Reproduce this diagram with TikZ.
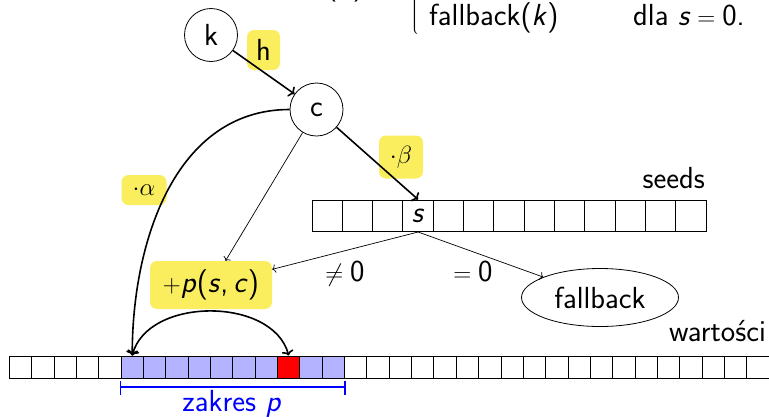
\documentclass[tikz,border=0pt]{standalone}
\usepackage{fontspec}
\usetikzlibrary{arrows.meta,calc,shapes.geometric}
\definecolor{hl}{RGB}{250,238,95}
\definecolor{shade}{RGB}{179,179,255}
\newcommand\mi[1]{\textsf{\textit{#1}}}
\begin{document}
\begin{tikzpicture}[x=1pt,y=-1pt,
  font=\sffamily\fontsize{30.5}{36}\selectfont,
  circ/.style={circle,draw,line width=0.8pt,minimum size=53pt,inner sep=0pt},
  hlbox/.style={fill=hl,rounded corners=7pt,inner sep=0pt},
  seedcell/.style={draw,line width=1pt,minimum width=30.31pt,minimum height=31.5pt,inner sep=0pt},
  valcell/.style={draw,line width=1pt,minimum width=22.35pt,minimum height=22.4pt,inner sep=0pt},
  thk/.style={-{To[length=5pt,width=12pt]},line width=1.6pt},
  thn/.style={-{To[length=3.5pt,width=8.5pt]},line width=0.7pt}]
\useasboundingbox (0,0) rectangle (769,416);
% top formula (cut)
\node[anchor=base,inner sep=0pt] (lhs) at (345,-5.5) {(\mi{k})};
\node[anchor=south west,inner sep=0pt] (brace) at (410,35) {$\left\{\rule[-45pt]{0pt}{90pt}\right.$};
\node[anchor=base west,inner sep=0pt] (fbk) at (429,25) {fallback(\mi{k})};
\node[anchor=base west,inner sep=0pt] (dla) at (633,25) {dla \mi{s}$\;=\;$0.};
% labels
\node[hlbox,minimum width=33pt,minimum height=40pt] (hlab) at (263.5,50) {h};
\node[hlbox,minimum width=44pt,minimum height=43pt] (blab) at (401,157) {$\cdot\beta$};
\node[hlbox,minimum width=45pt,minimum height=30pt] (alab) at (144,190) {$\cdot\alpha$};
\node[hlbox,minimum width=122pt,minimum height=48pt] (pbox) at (211,285) {$+$\mi{p}(\mi{s},\,\mi{c})};
% circles
\node[circ] (k) at (211,35) {k};
\node[circ] (c) at (316.5,109.5) {c};
% seeds
\foreach \i in {0,...,12}
  \node[seedcell] (s\i) at ({312+30.31*(\i+0.5)},215.75) {};
\node[inner sep=0pt] (slab) at (s3.center) {\mi{s}};
\node[anchor=base east,inner sep=0pt] (seeds) at (705,188) {seeds};
% values
\foreach \i in {0,...,33}{
  \ifnum\i<5 \def\fc{white}\else\ifnum\i>14 \def\fc{white}\else\ifnum\i=12 \def\fc{red}\else\def\fc{shade}\fi\fi\fi
  \node[valcell,fill=\fc] (v\i) at ({9.3+22.35*(\i+0.5)},367.2) {};
}
\node[anchor=base east,inner sep=0pt] (wart) at (766,341.5) {wartości};
% fallback
\node[ellipse,draw,line width=0.8pt,minimum width=157pt,minimum height=58pt,inner sep=0pt] (fb) at (600,297.5) {fallback};
\node[anchor=base,inner sep=0pt] (ne) at (345,281) {$\neq\;$0};
\node[anchor=base,inner sep=0pt] (eq) at (473,281) {$=\;$0};
% connectors
\draw[thk] (k) -- (c);
\draw[thk] (c) -- (s3.north);
\draw[thn] (c) -- (pbox);
\draw[thn] (s3.south) -- (pbox);
\draw[thn] (s3.south) -- (fb);
\draw[thk] (c.west) to[out=180,in=90] (v5.north);
\draw[thk,{To[length=5pt,width=12pt]}-{To[length=5pt,width=12pt]}] (v5.north) to[out=75,in=105] (v12.north);
% range bracket
\draw[blue,line width=1.6pt] ($(v5.south west)+(0,2)$) -- ++(0,14)
  ($(v5.south west)+(0,8)$) -- ($(v14.south east)+(0,8)$)
  ($(v14.south east)+(0,2)$) -- ++(0,14);
\node[blue,anchor=base,inner sep=0pt] (zak) at (232,411) {zakres \mi{p}};
\end{tikzpicture}
\end{document}
